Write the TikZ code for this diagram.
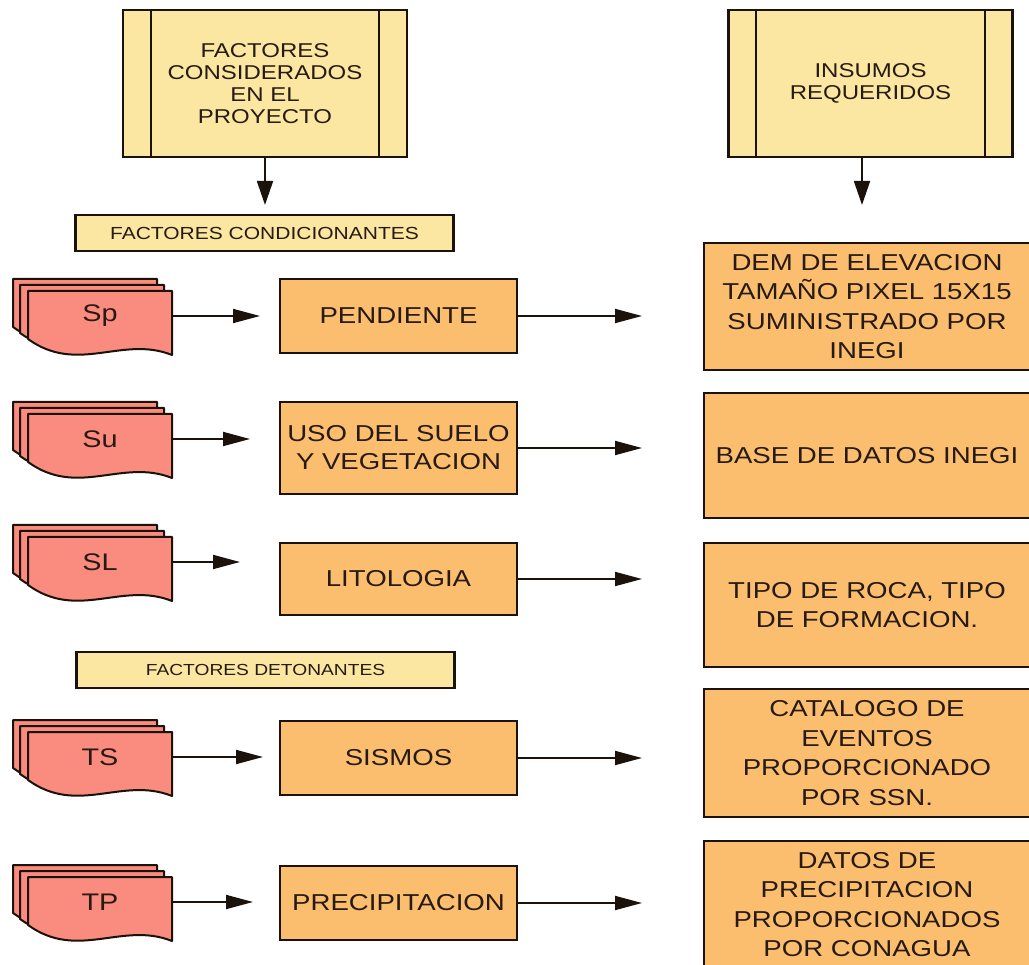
\documentclass[tikz,border=0pt]{standalone}
\usepackage{fontspec}
\setmainfont{Liberation Sans}[FakeStretch=1.2]
\usetikzlibrary{arrows.meta}

\definecolor{gold}{HTML}{FCE7A2}
\definecolor{orangebox}{HTML}{FBBD6E}
\definecolor{salmon}{HTML}{F98B7F}
\definecolor{edge}{HTML}{1C120C}
\definecolor{ink}{HTML}{261A12}

% one sheet of a stacked document symbol, top-left corner given
\newcommand\docsheet[2]{%
  \begin{scope}[shift={(#1,#2)}]
    \filldraw[fill=salmon, draw=edge, line width=2pt, line join=round]
      (0,0) -- (144,0) -- (144,64)
      .. controls (94,44) and (50,84) .. (0,48) -- cycle;
  \end{scope}}

% stack of three sheets with its label node: name, centre x, centre y, text
\newcommand\docstack[4]{%
  \foreach \dx/\dy in {15/12,8/6,0/0}{%
    \docsheet{#2-72-\dx}{#3-25-\dy}}
  \node[doclabel] (#1) at (#2,#3) {#4};}

\begin{document}
\begin{tikzpicture}[x=1pt,y=-1pt,
  base/.style={draw=edge, line width=2.3pt, text=ink, align=center, inner sep=0pt},
  procbox/.style={base, fill=gold, minimum width=284pt, minimum height=147pt,
    font=\fontsize{20}{22}\selectfont},
  tagbox/.style={base, fill=gold, minimum width=378pt, minimum height=36pt},
  factor/.style={base, fill=orangebox, minimum width=237pt,
    font=\fontsize{23}{28}\selectfont},
  inputbox/.style={base, fill=orangebox, minimum width=326pt,
    font=\fontsize{23}{29.5}\selectfont},
  doclabel/.style={text=ink, minimum width=144pt, minimum height=40pt,
    inner sep=0pt, font=\fontsize{24}{28}\selectfont},
  link/.style={draw=edge, line width=1.8pt, -{Triangle[length=27pt,width=14pt]}},
  drop/.style={draw=edge, line width=1.8pt, -{Triangle[length=24pt,width=16pt]}},
  sideline/.style={draw=edge, line width=2pt}]

\useasboundingbox (0,0) rectangle (1029,965);
\fill[white] (0,0) rectangle (1029,965);
\clip (0,0) rectangle (1029,965);

% headers
\node[procbox] (consid) at (265,83.5) {FACTORES\\CONSIDERADOS\\EN EL\\PROYECTO};
\draw[sideline] ([xshift=29pt]consid.north west) -- ([xshift=29pt]consid.south west);
\draw[sideline] ([xshift=-29pt]consid.north east) -- ([xshift=-29pt]consid.south east);
\coordinate (consid-end) at (265,205);
\draw[drop] (consid.south) -- (consid-end);

\node[procbox] (insumos) at (870.5,83.5) {INSUMOS\\REQUERIDOS};
\draw[sideline] ([xshift=29pt]insumos.north west) -- ([xshift=29pt]insumos.south west);
\draw[sideline] ([xshift=-29pt]insumos.north east) -- ([xshift=-29pt]insumos.south east);
\coordinate (insumos-end) at (862,205);
\draw[drop] (insumos.south -| insumos-end) -- (insumos-end);

% group labels
\node[tagbox, font=\fontsize{17.5}{20}\selectfont] (cond) at (264.5,233) {FACTORES CONDICIONANTES};
\node[tagbox, font=\fontsize{16}{19}\selectfont] (deton) at (265.5,670) {FACTORES DETONANTES};

% document stacks
\docstack{sp}{100}{316}{Sp}
\docstack{su}{100}{439}{Su}
\docstack{sl}{100}{562}{SL}
\docstack{ts}{100}{757}{TS}
\docstack{tp}{100}{902}{TP}

% factors
\node[factor, minimum height=74pt] (pend) at (398.5,316) {PENDIENTE};
\node[factor, minimum height=92pt] (suelo) at (398.5,448) {USO DEL SUELO\\Y VEGETACION};
\node[factor, minimum height=72pt] (lito) at (398.5,579) {LITOLOGIA};
\node[factor, minimum height=74pt] (sism) at (398.5,758) {SISMOS};
\node[factor, minimum height=74pt] (prec) at (398.5,903) {PRECIPITACION};

% required inputs
\node[inputbox, minimum height=127pt] (dem) at (867,306.5) {DEM DE ELEVACION\\TAMAÑO PIXEL 15X15\\SUMINISTRADO POR\\INEGI};
\node[inputbox, minimum height=125pt] (base) at (867,455.5) {BASE DE DATOS INEGI};
\node[inputbox, minimum height=124pt] (roca) at (867,605) {TIPO DE ROCA, TIPO\\DE FORMACION.};
\node[inputbox, minimum height=128pt] (catal) at (867,753) {CATALOGO DE\\EVENTOS\\PROPORCIONADO\\POR SSN.};
\node[inputbox, minimum height=127pt] (datos) at (867,904.5) {DATOS DE\\PRECIPITACION\\PROPORCIONADOS\\POR CONAGUA};

% arrows from the document stacks
\coordinate (sp-tip) at (260,316);
\coordinate (su-tip) at (250,439);
\coordinate (sl-tip) at (240,562);
\coordinate (ts-tip) at (263,757);
\coordinate (tp-tip) at (253,902);
\draw[link] (sp.east) -- (sp-tip);
\draw[link] (su.east) -- (su-tip);
\draw[link] (sl.east) -- (sl-tip);
\draw[link] (ts.east) -- (ts-tip);
\draw[link] (tp.east) -- (tp-tip);

% arrows from the factors
\coordinate (pend-tip) at (642,316);
\coordinate (suelo-tip) at (642,448);
\coordinate (lito-tip) at (642,579);
\coordinate (sism-tip) at (642,758);
\coordinate (prec-tip) at (642,903);
\draw[link] (pend.east) -- (pend-tip);
\draw[link] (suelo.east) -- (suelo-tip);
\draw[link] (lito.east) -- (lito-tip);
\draw[link] (sism.east) -- (sism-tip);
\draw[link] (prec.east) -- (prec-tip);

\end{tikzpicture}
\end{document}
